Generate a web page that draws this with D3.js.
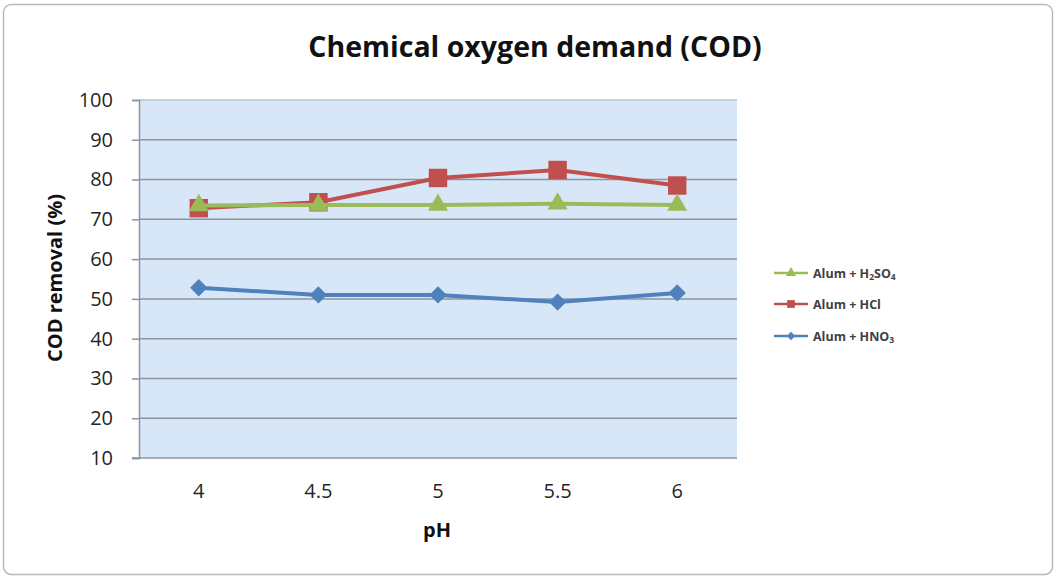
<!DOCTYPE html>
<html>
<head>
<meta charset="utf-8">
<script src="https://cdn.jsdelivr.net/npm/d3@7"></script>
<style>
  html, body { margin: 0; padding: 0; background: #ffffff; }
  svg { display: block; }
  text { font-family: "Open Sans", "Noto Sans", sans-serif; }
</style>
</head>
<body>
<svg id="chart" width="1056" height="581"></svg>
<script>
// pH levels on the category axis
const phLevels = ["4", "4.5", "5", "5.5", "6"];
// COD removal (%) for each coagulant / acid combination
const h2so4 = [73.5, 73.6, 73.6, 73.9, 73.6];
const hcl   = [72.8, 74.3, 80.4, 82.4, 78.5];
const hno3  = [52.8, 51.0, 51.0, 49.2, 51.5];
const yTicks = [10, 20, 30, 40, 50, 60, 70, 80, 90, 100];

const series = [
  { name: "H2SO4", values: h2so4, color: "#9bbb59", marker: "triangle" },
  { name: "HCl",   values: hcl,   color: "#c0504d", marker: "square" },
  { name: "HNO3",  values: hno3,  color: "#4f81bd", marker: "diamond" }
];

const svg = d3.select("#chart");
const W = 1056, H = 581;
const plot = { left: 139, right: 737, top: 100, bottom: 458 };

// outer chart frame
svg.append("rect")
  .attr("x", 3.5).attr("y", 4.5)
  .attr("width", W - 7).attr("height", H - 11)
  .attr("rx", 8)
  .attr("fill", "#ffffff")
  .attr("stroke", "#b8b8b8").attr("stroke-width", 1.5);

const x = d3.scaleBand().domain(phLevels).range([plot.left, plot.right]);
const y = d3.scaleLinear().domain([10, 100]).range([plot.bottom, plot.top]);

// plot area background
svg.append("rect")
  .attr("x", plot.left).attr("y", plot.top)
  .attr("width", plot.right - plot.left).attr("height", plot.bottom - plot.top)
  .attr("fill", "#d8e7f8");

// horizontal gridlines
svg.append("g").selectAll("line")
  .data(yTicks.filter(d => d > 10))
  .join("line")
  .attr("x1", plot.left).attr("x2", plot.right)
  .attr("y1", d => y(d)).attr("y2", d => y(d))
  .attr("stroke", d => d === 100 ? "#b9c4d0" : "#8c949e")
  .attr("stroke-width", 1.5);

// y axis
const yAxis = svg.append("g")
  .attr("transform", `translate(${plot.left},0)`)
  .call(d3.axisLeft(y).tickValues(yTicks).tickSize(7).tickPadding(19));
yAxis.select(".domain").attr("stroke", "#8c949e").attr("stroke-width", 1.5);
yAxis.selectAll(".tick line").attr("stroke", "#8c949e").attr("stroke-width", 1.5);
yAxis.selectAll(".tick text")
  .attr("font-size", 20).attr("fill", "#262626")
  .attr("font-family", "'Open Sans', sans-serif");

// x axis
const xAxis = svg.append("g")
  .attr("transform", `translate(0,${plot.bottom})`)
  .call(d3.axisBottom(x).tickSize(0).tickPadding(26));
xAxis.select(".domain").remove();
svg.append("line")
  .attr("x1", plot.left - 7).attr("x2", plot.right)
  .attr("y1", plot.bottom).attr("y2", plot.bottom)
  .attr("stroke", "#8c949e").attr("stroke-width", 1.5);
xAxis.selectAll(".tick text")
  .attr("font-size", 20).attr("fill", "#262626")
  .attr("font-family", "'Open Sans', sans-serif");

// title and axis titles
svg.append("text")
  .attr("x", 535).attr("y", 57)
  .attr("text-anchor", "middle")
  .attr("font-size", 28.5).attr("font-weight", "bold").attr("fill", "#111")
  .text("Chemical oxygen demand (COD)");

svg.append("text")
  .attr("x", 437).attr("y", 537)
  .attr("text-anchor", "middle")
  .attr("font-size", 20).attr("font-weight", "bold").attr("fill", "#111")
  .text("pH");

svg.append("text")
  .attr("transform", "translate(62,278) rotate(-90)")
  .attr("text-anchor", "middle")
  .attr("font-size", 20).attr("font-weight", "bold").attr("fill", "#111")
  .text("COD removal (%)");

// marker shapes
const symbolFor = {
  triangle: d3.symbol().type(d3.symbolTriangle).size(175),
  square: d3.symbol().type(d3.symbolSquare).size(340),
  diamond: d3.symbol().type(d3.symbolSquare).size(150)
};
const markerRotation = { triangle: 0, square: 0, diamond: 45 };

const line = d3.line()
  .x((d, i) => x(phLevels[i]) + x.bandwidth() / 2)
  .y(d => y(d));

// draw HNO3 first, then HCl, then H2SO4 on top
[series[2], series[1], series[0]].forEach(s => {
  const g = svg.append("g");
  g.append("path")
    .datum(s.values)
    .attr("d", line)
    .attr("fill", "none")
    .attr("stroke", s.color)
    .attr("stroke-width", 4)
    .attr("stroke-linejoin", "round");
  g.selectAll("path.mk")
    .data(s.values)
    .join("path")
    .attr("class", "mk")
    .attr("d", symbolFor[s.marker])
    .attr("transform", (d, i) =>
      `translate(${x(phLevels[i]) + x.bandwidth() / 2},${y(d)}) rotate(${markerRotation[s.marker]})`)
    .attr("fill", s.color);
});

// legend
const legend = svg.append("g");
const legendRows = [
  { s: series[0], y: 273, label: ["Alum + H", "2", "SO", "4"] },
  { s: series[1], y: 304, label: ["Alum + HCl"] },
  { s: series[2], y: 336, label: ["Alum + HNO", "3"] }
];
const legendSymbols = {
  triangle: d3.symbol().type(d3.symbolTriangle).size(45),
  square: d3.symbol().type(d3.symbolSquare).size(60),
  diamond: d3.symbol().type(d3.symbolSquare).size(35)
};
legendRows.forEach(r => {
  legend.append("line")
    .attr("x1", 774).attr("x2", 808)
    .attr("y1", r.y).attr("y2", r.y)
    .attr("stroke", r.s.color).attr("stroke-width", 2.5);
  legend.append("path")
    .attr("d", legendSymbols[r.s.marker])
    .attr("transform", `translate(791,${r.y}) rotate(${markerRotation[r.s.marker]})`)
    .attr("fill", r.s.color);
  const t = legend.append("text")
    .attr("x", 813).attr("y", r.y + 4.5)
    .attr("font-size", 12.5).attr("font-weight", "bold").attr("fill", "#404040");
  r.label.forEach((part, i) => {
    const sub = i % 2 === 1;
    t.append("tspan")
      .attr("font-size", sub ? 8.5 : 12.5)
      .attr("dy", sub ? 2 : (i > 0 ? -2 : 0))
      .text(part);
  });
});
</script>
</body>
</html>
